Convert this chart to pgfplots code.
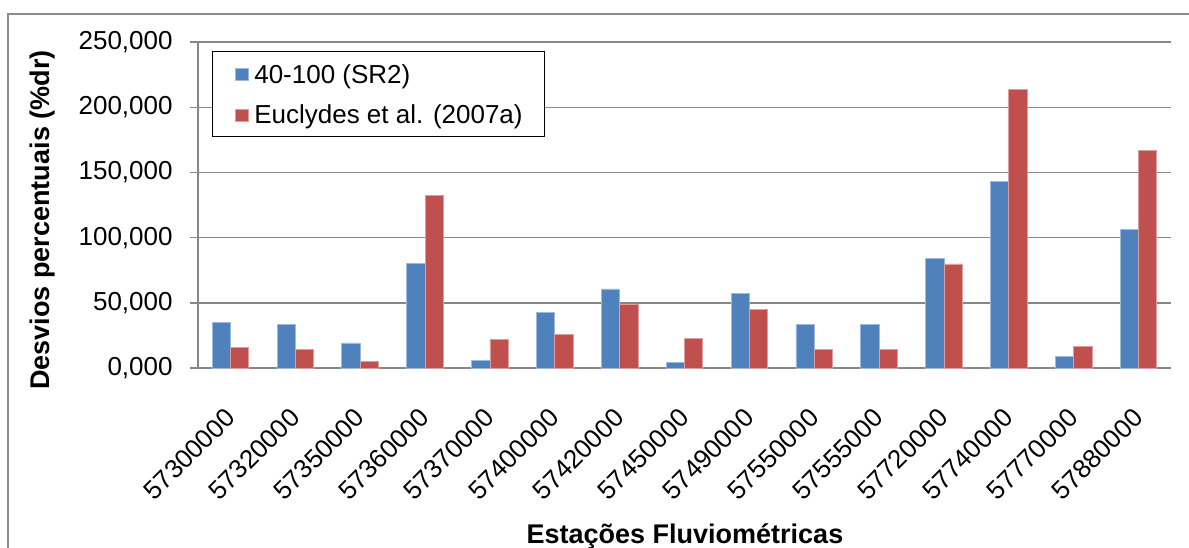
\documentclass[border=0pt]{standalone}
\usepackage{fontspec}
\setmainfont{Liberation Sans}
\usepackage{pgfplots}
\pgfplotsset{compat=1.18}
\definecolor{barBlue}{HTML}{4F81BD}
\definecolor{barRed}{HTML}{C0504D}
\definecolor{gridGrey}{HTML}{878787}
\definecolor{frameGrey}{HTML}{8C8C8C}
\pgfplotsset{mylegimg/.style={legend image code/.code={\fill[##1] (0pt,-3.4pt) rectangle (6.5pt,2.4pt); \path (9.5pt,0pt);}}}
\begin{document}
\begin{tikzpicture}
\useasboundingbox (-99pt,-89.5pt) rectangle (495.5pt,184pt);
\draw[frameGrey, line width=0.6pt] (-95pt,-95pt) -- (-95pt,177pt) -- (500pt,177pt);
\begin{axis}[
  at={(0pt,0pt)}, anchor=south west,
  scale only axis, width=486.5pt, height=163pt,
  ybar, bar width=0.282,
  xmin=-0.5, xmax=14.5, ymin=0, ymax=250,
  xtick={0,...,14},
  xticklabels={57300000,57320000,57350000,57360000,57370000,57400000,57420000,57450000,57490000,57550000,57555000,57720000,57740000,57770000,57880000},
  ytick={0,50,100,150,200,250},
  yticklabels={{0,000},{50,000},{100,000},{150,000},{200,000},{250,000}},
  axis x line*=bottom, axis y line*=left,
  axis line style={gridGrey, line width=0.9pt, -},
  ymajorgrids, grid style={gridGrey, line width=0.7pt},
  xtick style={draw=none},
  ytick style={gridGrey, line width=0.7pt},
  tick align=outside, major tick length=4pt,
  xticklabel style={yshift=-18.5pt, rotate=45, anchor=east, inner sep=0pt, font=\fontsize{13pt}{15pt}\selectfont},
  yticklabel style={anchor=east, inner sep=0pt, xshift=-8.5pt, font=\fontsize{13pt}{15pt}\selectfont},
  xlabel={Estações Fluviométricas},
  ylabel={Desvios percentuais (\%dr)},
  xlabel style={at={(axis description cs:0.5005,-0.537)}, anchor=base, inner sep=0pt, font=\fontsize{13.5pt}{16pt}\selectfont\bfseries},
  ylabel style={at={(axis description cs:-0.1595,0.454)}, anchor=center, inner sep=0pt, font=\fontsize{13.5pt}{16pt}\selectfont\bfseries},
  legend style={at={(axis description cs:0.0144,0.9724)}, anchor=north west, draw=black, line width=0.5pt, fill=white,
    inner xsep=11pt, inner ysep=3.8pt, row sep=5.8pt, font=\fontsize{13pt}{15pt}\selectfont,
    nodes={inner sep=0pt, text height=12.05pt, text depth=2.5pt}, cells={anchor=west}},
]
\addplot[fill=barBlue, draw=barBlue!55!white, line width=0.4pt, bar shift=-0.141, mylegimg] coordinates {
(0,35.0) (1,33.7) (2,19.2) (3,80.0) (4,6.1) (5,42.7) (6,60.6) (7,4.6) (8,57.1) (9,33.1) (10,33.1) (11,84.2) (12,143.1) (13,9.2) (14,106.4)};
\addlegendentry{40-100 (SR2)}
\addplot[fill=barRed, draw=barRed!55!white, line width=0.4pt, bar shift=0.141, mylegimg] coordinates {
(0,15.9) (1,14.0) (2,4.9) (3,132.0) (4,21.7) (5,26.0) (6,49.0) (7,22.4) (8,44.6) (9,14.3) (10,14.3) (11,79.8) (12,213.5) (13,16.3) (14,166.6)};
\addlegendentry{Euclydes et al. (2007a)}
\end{axis}
\end{tikzpicture}
\end{document}
